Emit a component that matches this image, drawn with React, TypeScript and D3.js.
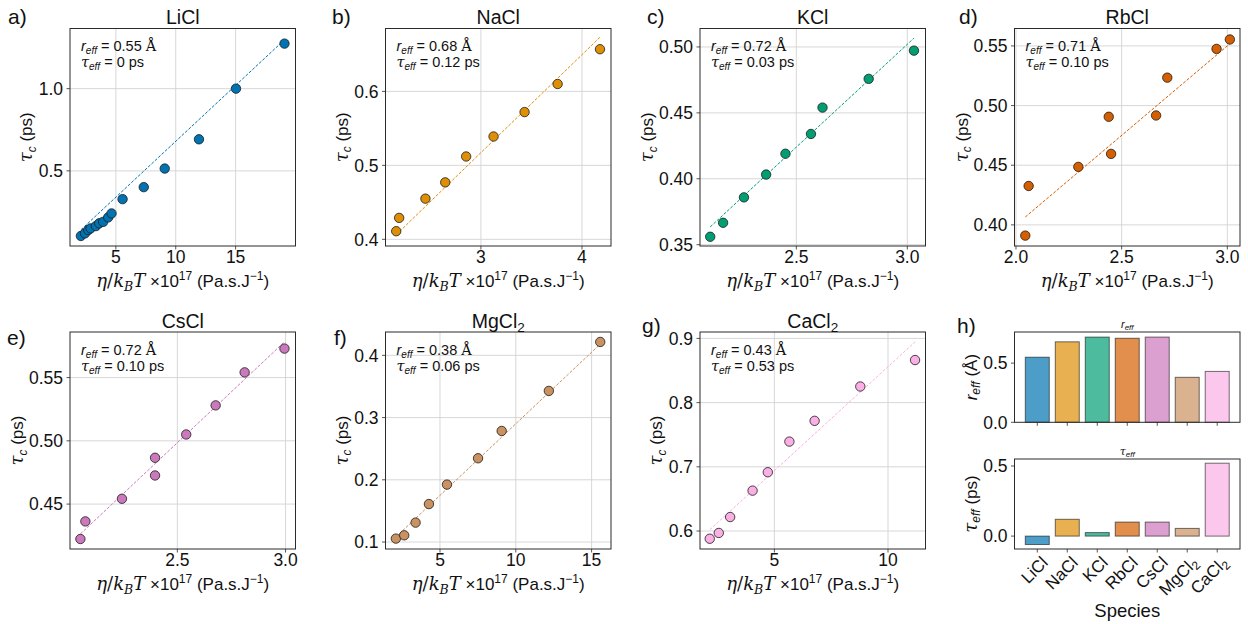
import React from "react";
import * as d3 from "d3";

// ---------- data ----------
const species = ["LiCl", "NaCl", "KCl", "RbCl", "CsCl", "MgCl2", "CaCl2"];
const palette = ["#0173B2", "#DE8F05", "#029E73", "#D55E00", "#CC78BC", "#CA9161", "#FBAFE4"];

const rEff = [0.55, 0.68, 0.72, 0.71, 0.72, 0.38, 0.43];
const tauEff = [-0.06, 0.12, 0.025, 0.10, 0.10, 0.055, 0.52];
const rEffLabels = ["0.55", "0.68", "0.72", "0.71", "0.72", "0.38", "0.43"];
const tauEffLabels = ["0", "0.12", "0.03", "0.10", "0.10", "0.06", "0.53"];

const liclX = [2.08, 2.42, 2.69, 2.89, 3.33, 3.61, 3.94, 4.36, 4.64, 5.56, 7.33, 9.08, 11.94, 15.03, 19.08];
const liclY = [0.104, 0.12, 0.14, 0.15, 0.164, 0.181, 0.19, 0.217, 0.241, 0.328, 0.401, 0.514, 0.692, 1.0, 1.274];
const naclX = [2.162, 2.191, 2.451, 2.647, 2.854, 3.125, 3.432, 3.759, 4.178];
const naclY = [0.411, 0.429, 0.455, 0.477, 0.512, 0.539, 0.572, 0.61, 0.657];
const kclX = [2.112, 2.17, 2.264, 2.364, 2.451, 2.566, 2.618, 2.826, 3.03];
const kclY = [0.356, 0.3666, 0.3859, 0.4032, 0.419, 0.434, 0.454, 0.4758, 0.4972];
const rbclX = [2.044, 2.06, 2.295, 2.439, 2.45, 2.663, 2.716, 2.949, 3.012];
const rbclY = [0.391, 0.4326, 0.4486, 0.4906, 0.4595, 0.4917, 0.5234, 0.5475, 0.5554];
const csclX = [2.052, 2.075, 2.244, 2.397, 2.397, 2.541, 2.677, 2.811, 2.995];
const csclY = [0.4224, 0.4363, 0.4542, 0.4866, 0.4726, 0.505, 0.528, 0.5541, 0.5729];
const mgcl2X = [2.09, 2.64, 3.39, 4.27, 5.46, 7.51, 9.07, 12.18, 15.57];
const mgcl2Y = [0.1055, 0.1108, 0.1312, 0.161, 0.1923, 0.2346, 0.2785, 0.3428, 0.4215];
const cacl2X = [2.155, 2.553, 3.053, 4.04, 4.71, 5.66, 6.77, 8.78, 11.19];
const cacl2Y = [0.588, 0.597, 0.6218, 0.6629, 0.6916, 0.7393, 0.7716, 0.8251, 0.8663];

const fitSlope = [0.068, 0.1324, 0.156, 0.15, 0.161, 0.023, 0.0324];
const fitIntercept = [0.0, 0.12, 0.034, 0.10, 0.096, 0.06, 0.532];

const xDomains = [[1.17, 20.0], [2.056, 4.287], [2.066, 3.082], [1.993, 3.06], [2.004, 3.046], [1.405, 16.28], [1.726, 11.65]];
const yDomains = [[0.043, 1.366], [0.391, 0.685], [0.349, 0.514], [0.3823, 0.5646], [0.4145, 0.586], [0.0888, 0.4375], [0.572, 0.91]];
const xTickVals = [[5, 10, 15], [3, 4], [2.5, 3.0], [2.0, 2.5, 3.0], [2.5, 3.0], [5, 10, 15], [5, 10]];
const yTickVals = [[0.5, 1.0], [0.4, 0.5, 0.6], [0.35, 0.4, 0.45, 0.5], [0.4, 0.45, 0.5, 0.55], [0.45, 0.5, 0.55], [0.1, 0.2, 0.3, 0.4], [0.6, 0.7, 0.8, 0.9]];
const xTickFmt = ["d", "d", ".1f", ".1f", ".1f", "d", "d"];
const yTickFmt = [".1f", ".1f", ".2f", ".2f", ".2f", ".1f", ".1f"];
const panelLetters = ["a)", "b)", "c)", "d)", "e)", "f)", "g)", "h)"];

const barTopDomain = [0, 0.763];
const barBottomDomain = [-0.092, 0.55];
const barTicks = [0.0, 0.5];

const seriesX = [liclX, naclX, kclX, rbclX, csclX, mgcl2X, cacl2X];
const seriesY = [liclY, naclY, kclY, rbclY, csclY, mgcl2Y, cacl2Y];

// ---------- layout ----------
const W = 1248, H = 624;
const SANS = "'Liberation Sans', Arial, Helvetica, sans-serif";
const SERIF = "'DejaVu Serif', 'Liberation Serif', serif";
const colLeft = [70, 385.5, 700, 1014.5];
const axW = 225.5;
const rows = [[28.5, 246], [332, 549]];
const letterPos = [[8, 23.5], [332, 23.5], [647, 23.5], [959, 23.5], [7, 345], [334, 345], [642, 333], [957, 333]];
const GRID = "#d3d3d3";
const FRAME = "#2b2b2b";
const TICK_FS = 17.5;
const LAB_FS = 17;

function Title({ name, x, y }: { name: string; x: number; y: number }) {
  const m = name.match(/^(.*?)(\d)$/);
  return (
    <text x={x} y={y} textAnchor="middle" fontSize={19.5} fontFamily={SANS} fill="#111">
      {m ? (
        <>
          <tspan>{m[1]}</tspan>
          <tspan fontSize={13.5} dy={4}>{m[2]}</tspan>
        </>
      ) : (
        name
      )}
    </text>
  );
}

function ScatterPanel({ i }: { i: number }) {
  const col = i % 4;
  const row = Math.floor(i / 4);
  const left = colLeft[col];
  const right = left + axW;
  const [top, bottom] = rows[row];
  const x = d3.scaleLinear().domain(xDomains[i]).range([left, right]);
  const y = d3.scaleLinear().domain(yDomains[i]).range([bottom, top]);
  const xs = seriesX[i];
  const ys = seriesY[i];
  const pts = xs.map((v, k) => [v, ys[k]] as [number, number]);
  const ext = d3.extent(xs) as [number, number];
  const fit = ext.map((v) => [v, fitIntercept[i] + fitSlope[i] * v] as [number, number]);
  const line = d3.line<[number, number]>().x((d) => x(d[0])).y((d) => y(d[1]));
  const xf = d3.format(xTickFmt[i]);
  const yf = d3.format(yTickFmt[i]);
  const maxChars = d3.max(yTickVals[i].map((v) => yf(v).length)) as number;
  const ylabX = left - (11 + maxChars * 9);
  const cx = (left + right) / 2;
  const cy = (top + bottom) / 2;
  const color = palette[i];
  const clipId = `clip${i}`;
  return (
    <g>
      <defs>
        <clipPath id={clipId}>
          <rect x={left} y={top} width={right - left} height={bottom - top} />
        </clipPath>
      </defs>
      {xTickVals[i].map((t) => (
        <line key={"gx" + t} x1={x(t)} x2={x(t)} y1={top} y2={bottom} stroke={GRID} strokeWidth={0.9} />
      ))}
      {yTickVals[i].map((t) => (
        <line key={"gy" + t} x1={left} x2={right} y1={y(t)} y2={y(t)} stroke={GRID} strokeWidth={0.9} />
      ))}
      <g clipPath={`url(#${clipId})`}>
        <path d={line(fit) || ""} stroke={color} strokeWidth={1} strokeDasharray="3,1.6" fill="none" />
        {pts.map((p, k) => (
          <circle key={k} cx={x(p[0])} cy={y(p[1])} r={4.7} fill={color} stroke="#1a1a1a" strokeWidth={0.8} />
        ))}
      </g>
      <rect x={left} y={top} width={right - left} height={bottom - top} fill="none" stroke={FRAME} strokeWidth={1} />
      {xTickVals[i].map((t) => (
        <g key={"tx" + t}>
          <line x1={x(t)} x2={x(t)} y1={bottom} y2={bottom + 3.5} stroke={FRAME} strokeWidth={0.8} />
          <text x={x(t)} y={bottom + 17} textAnchor="middle" fontSize={TICK_FS} fontFamily={SANS} fill="#111">
            {xf(t)}
          </text>
        </g>
      ))}
      {yTickVals[i].map((t) => (
        <g key={"ty" + t}>
          <line x1={left - 3.5} x2={left} y1={y(t)} y2={y(t)} stroke={FRAME} strokeWidth={0.8} />
          <text x={left - 7} y={y(t) + 6.2} textAnchor="end" fontSize={TICK_FS} fontFamily={SANS} fill="#111">
            {yf(t)}
          </text>
        </g>
      ))}
      <text transform={`translate(${ylabX},${cy}) rotate(-90)`} textAnchor="middle" fontSize={LAB_FS} fontFamily={SANS} fill="#111">
        <tspan fontFamily={SERIF} fontStyle="italic" fontSize={18}>τ</tspan>
        <tspan fontStyle="italic" fontSize={12} dy={3.5}>c</tspan>
        <tspan dy={-3.5}> (ps)</tspan>
      </text>
      <text x={cx} y={bottom + 41} textAnchor="middle" fontSize={LAB_FS} fontFamily={SANS} fill="#111">
        <tspan fontFamily={SERIF} fontStyle="italic" fontSize={18}>η</tspan>
        <tspan fontFamily={SERIF} fontSize={18}>/</tspan>
        <tspan fontFamily={SERIF} fontStyle="italic" fontSize={18}>k</tspan>
        <tspan fontFamily={SERIF} fontStyle="italic" fontSize={12.5} dy={3.5}>B</tspan>
        <tspan fontFamily={SERIF} fontStyle="italic" fontSize={18} dy={-3.5}>T</tspan>
        <tspan> ×10</tspan>
        <tspan fontSize={12} dy={-7}>17</tspan>
        <tspan dy={7}> (Pa.s.J</tspan>
        <tspan fontSize={12} dy={-7}>−1</tspan>
        <tspan dy={7}>)</tspan>
      </text>
      <text x={left + 11} y={top + 22.5} fontSize={14.5} fontFamily={SANS} fill="#111">
        <tspan fontStyle="italic">r</tspan>
        <tspan fontStyle="italic" fontSize={10} dy={3}>eff</tspan>
        <tspan dy={-3}>{` = ${rEffLabels[i]} `}</tspan>
        <tspan fontFamily={SERIF}>Å</tspan>
      </text>
      <text x={left + 11} y={top + 38.5} fontSize={14.5} fontFamily={SANS} fill="#111">
        <tspan fontFamily={SERIF} fontStyle="italic">τ</tspan>
        <tspan fontStyle="italic" fontSize={10} dy={3}>eff</tspan>
        <tspan dy={-3}>{` = ${tauEffLabels[i]} ps`}</tspan>
      </text>
      <Title name={species[i]} x={cx} y={row === 0 ? 24 : 328} />
      <text x={letterPos[i][0]} y={letterPos[i][1]} fontSize={21} fontFamily={SANS} fill="#111">
        {panelLetters[i]}
      </text>
    </g>
  );
}

function BarPanel() {
  const left = colLeft[3];
  const right = left + axW;
  const topA = [332, 422.3];
  const botA = [459, 549];
  const xb = d3.scaleBand<string>().domain(species).range([left, right]).paddingInner(0.2).paddingOuter(0.36);
  const yTop = d3.scaleLinear().domain(barTopDomain).range([topA[1], topA[0]]);
  const yBot = d3.scaleLinear().domain(barBottomDomain).range([botA[1], botA[0]]);
  const f = d3.format(".1f");
  const cx = (left + right) / 2;
  const axes = [
    { box: topA, y: yTop, vals: rEff, key: "top" },
    { box: botA, y: yBot, vals: tauEff, key: "bot" },
  ];
  return (
    <g>
      {axes.map((a) => (
        <g key={a.key}>
          {species.map((s, k) => {
            const v = a.vals[k];
            const y0 = a.y(0);
            const y1 = a.y(v);
            return (
              <rect
                key={s}
                x={xb(s)}
                y={Math.min(y0, y1)}
                width={xb.bandwidth()}
                height={Math.abs(y1 - y0)}
                fill={palette[k]}
                fillOpacity={0.7}
                stroke="#000"
                strokeOpacity={0.55}
                strokeWidth={1}
              />
            );
          })}
          <rect x={left} y={a.box[0]} width={right - left} height={a.box[1] - a.box[0]} fill="none" stroke={FRAME} strokeWidth={1} />
          {species.map((s) => {
            const tx = (xb(s) as number) + xb.bandwidth() / 2;
            return <line key={s} x1={tx} x2={tx} y1={a.box[1]} y2={a.box[1] + 3.5} stroke={FRAME} strokeWidth={0.8} />;
          })}
          {barTicks.map((t) => (
            <g key={t}>
              <line x1={left - 3.5} x2={left} y1={a.y(t)} y2={a.y(t)} stroke={FRAME} strokeWidth={0.8} />
              <text x={left - 7} y={a.y(t) + 6.2} textAnchor="end" fontSize={TICK_FS} fontFamily={SANS} fill="#111">
                {f(t)}
              </text>
            </g>
          ))}
        </g>
      ))}
      {/* titles */}
      <text x={cx} y={328} textAnchor="middle" fontSize={11} fontFamily={SANS} fontStyle="italic" fill="#111">
        <tspan>r</tspan>
        <tspan fontSize={8} dy={2}>eff</tspan>
      </text>
      <text x={cx} y={454.5} textAnchor="middle" fontSize={11} fontFamily={SANS} fill="#111">
        <tspan fontFamily={SERIF} fontStyle="italic">τ</tspan>
        <tspan fontStyle="italic" fontSize={8} dy={2}>eff</tspan>
      </text>
      {/* y labels */}
      <text transform={`translate(${left - 38},${(topA[0] + topA[1]) / 2}) rotate(-90)`} textAnchor="middle" fontSize={LAB_FS} fontFamily={SANS} fill="#111">
        <tspan fontStyle="italic">r</tspan>
        <tspan fontStyle="italic" fontSize={12} dy={3.5}>eff</tspan>
        <tspan dy={-3.5}> (Å)</tspan>
      </text>
      <text transform={`translate(${left - 38},${(botA[0] + botA[1]) / 2}) rotate(-90)`} textAnchor="middle" fontSize={LAB_FS} fontFamily={SANS} fill="#111">
        <tspan fontFamily={SERIF} fontStyle="italic" fontSize={18}>τ</tspan>
        <tspan fontStyle="italic" fontSize={12} dy={3.5}>eff</tspan>
        <tspan dy={-3.5}> (ps)</tspan>
      </text>
      {/* x tick labels */}
      {species.map((s) => {
        const tx = (xb(s) as number) + xb.bandwidth() / 2;
        const m = s.match(/^(.*?)(\d)$/);
        return (
          <text key={s} transform={`translate(${tx + 3},${botA[1] + 6}) rotate(-45)`} textAnchor="end" dy="0.72em" fontSize={17} fontFamily={SANS} fill="#111">
            {m ? (
              <>
                <tspan>{m[1]}</tspan>
                <tspan fontSize={12} dy={3.5}>{m[2]}</tspan>
              </>
            ) : (
              s
            )}
          </text>
        );
      })}
      <text x={cx} y={617} textAnchor="middle" fontSize={18.5} fontFamily={SANS} fill="#111">
        Species
      </text>
      <text x={letterPos[7][0]} y={letterPos[7][1]} fontSize={21} fontFamily={SANS} fill="#111">
        {panelLetters[7]}
      </text>
    </g>
  );
}

export default function App() {
  return (
    <svg width={W} height={H} style={{ position: "absolute", left: 0, top: 0, background: "#fff" }}>
      <rect x={0} y={0} width={W} height={H} fill="#fff" />
      {species.map((_, i) => (
        <ScatterPanel key={i} i={i} />
      ))}
      <BarPanel />
    </svg>
  );
}
